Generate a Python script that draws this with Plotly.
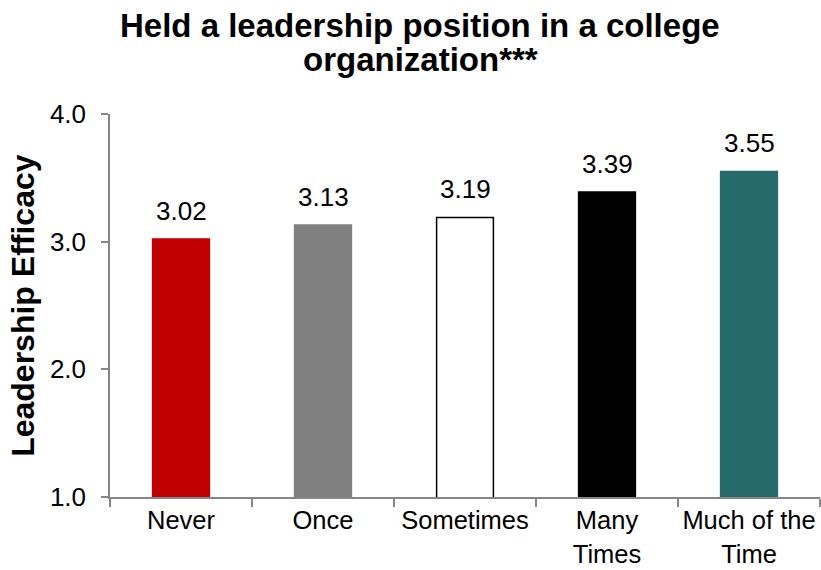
import plotly.graph_objects as go

# Leadership efficacy by frequency of holding a leadership position
categories = ["Never", "Once", "Sometimes", "Many<br>Times", "Much of the<br>Time"]
efficacy = [3.02, 3.13, 3.19, 3.39, 3.55]
bar_fill = ["#C00000", "#808080", "#FFFFFF", "#000000", "#266A6C"]
bar_edge = ["#C00000", "#808080", "#000000", "#000000", "#266A6C"]
y_ticks = [1.0, 2.0, 3.0, 4.0]
y_tick_labels = ["1.0", "2.0", "3.0", "4.0"]

title_lines = ["Held a leadership position in a college", "organization***"]
y_title = "Leadership Efficacy"

FONT = "Liberation Sans, Arial, sans-serif"
AXIS_GREY = "#868686"

fig = go.Figure()
fig.add_trace(go.Bar(
    x=categories,
    y=efficacy,
    width=0.40,
    marker=dict(color=bar_fill, line=dict(color=bar_edge, width=1.5)),
    hoverinfo="skip",
))

# value labels above each bar
annotations = []
for cat, val in zip(categories, efficacy):
    annotations.append(dict(
        x=cat, y=val, xref="x", yref="y",
        text=f"{val:.2f}", showarrow=False,
        yanchor="bottom", yshift=11,
        font=dict(family=FONT, size=26, color="#000000"),
    ))

# two-line chart title
annotations.append(dict(
    x=0.437, y=1.23, xref="paper", yref="paper", text=title_lines[0],
    showarrow=False, xanchor="center", yanchor="middle",
    font=dict(family=FONT, size=33, color="#000000", weight="bold"),
))
annotations.append(dict(
    x=0.437, y=1.143, xref="paper", yref="paper", text=title_lines[1],
    showarrow=False, xanchor="center", yanchor="middle",
    font=dict(family=FONT, size=33, color="#000000", weight="bold"),
))

# vertical axis title
annotations.append(dict(
    x=-0.1235, y=0.5, xref="paper", yref="paper", text=y_title,
    showarrow=False, xanchor="center", yanchor="middle", textangle=-90,
    font=dict(family=FONT, size=32, color="#000000", weight="bold"),
))

fig.update_layout(
    width=821, height=570,
    margin=dict(l=110, r=1, t=114, b=73, autoexpand=False),
    paper_bgcolor="#FFFFFF", plot_bgcolor="#FFFFFF",
    showlegend=False,
    annotations=annotations,
    font=dict(family=FONT, color="#000000"),
)

fig.update_xaxes(
    type="category",
    range=[-0.5, 4.5],
    automargin=False,
    tickangle=0,
    showline=True, linecolor=AXIS_GREY, linewidth=1.5,
    ticks="outside", tickson="boundaries", ticklen=8, tickcolor=AXIS_GREY, tickwidth=1.5,
    ticklabelstandoff=0,
    showgrid=False, zeroline=False,
    tickfont=dict(family=FONT, size=25.5, color="#000000"),
)

fig.update_yaxes(
    range=[1.0, 4.0],
    automargin=False,
    tickvals=y_ticks, ticktext=y_tick_labels,
    showline=True, linecolor=AXIS_GREY, linewidth=1.5,
    ticks="outside", ticklen=7, tickcolor=AXIS_GREY, tickwidth=1.5,
    ticklabelstandoff=10,
    showgrid=False, zeroline=False,
    tickfont=dict(family=FONT, size=26, color="#000000"),
)

fig.write_html("out.html")
